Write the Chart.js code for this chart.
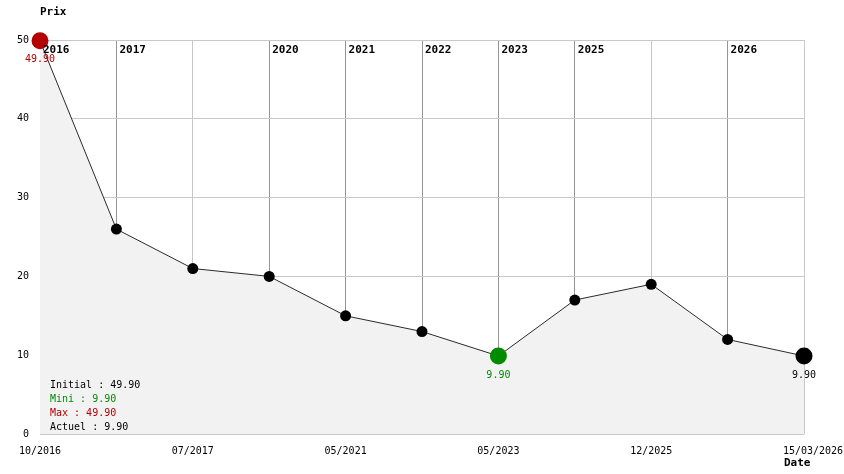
<!DOCTYPE html>
<html>
<head>
<meta charset="utf-8">
<script src="https://cdn.jsdelivr.net/npm/chart.js@4"></script>
<style>
    html, body { margin: 0; padding: 0; background: #fff; }
    #wrap { width: 844px; height: 474px; }
</style>
</head>
<body>
<div id="wrap"><canvas id="prixChart" width="844" height="474"></canvas></div>
<script>
// ------------------------------------------------------------------
// DONNEES
// ------------------------------------------------------------------
const DATES = ["10/2016", "", "07/2017", "", "05/2021", "", "05/2023", "", "12/2025", "", "15/03/2026"];
const PRIX = [49.90, 26.00, 21.00, 20.00, 15.00, 13.00, 9.90, 17.00, 19.00, 12.00, 9.90];
const ANNEES = ["2016", "2017", "", "2020", "2021", "2022", "2023", "2025", "", "2026", ""];
const Y_TICKS = [0, 10, 20, 30, 40, 50];

const ROUGE = "#b40000";
const VERT = "#008c00";
const NOIR = "#000000";
const POLICE = "'DejaVu Sans Mono', 'Liberation Mono', monospace";

const iMax = PRIX.indexOf(Math.max(...PRIX));
const iMin = PRIX.indexOf(Math.min(...PRIX));
const iFin = PRIX.length - 1;

function couleurPoint(i) {
    if (i === iMax) return ROUGE;
    if (i === iMin) return VERT;
    return NOIR;
}

function rayonPoint(i) {
    return (i === iMax || i === iMin || i === iFin) ? 8.5 : 5.5;
}

// ------------------------------------------------------------------
// TEXTES SUR LE CANVAS
// ------------------------------------------------------------------
const textesPlugin = {
    id: "textes",
    afterDraw(chart) {
        const ctx = chart.ctx;
        const x = chart.scales.x;
        const area = chart.chartArea;
        const pts = chart.getDatasetMeta(0).data;

        ctx.save();

        // annees en haut des lignes
        ctx.font = "bold 11px " + POLICE;
        ctx.fillStyle = NOIR;
        ctx.textAlign = "left";
        ctx.textBaseline = "middle";
        ANNEES.forEach((a, i) => {
            if (a) ctx.fillText(a, x.getPixelForValue(i) + 3, area.top + 10);
        });

        // titres
        ctx.fillText("Prix", 40, 12);
        ctx.fillText("Date", 784, 463);

        // valeurs sous les points
        ctx.font = "10px " + POLICE;
        ctx.textAlign = "center";
        [iMax, iMin, iFin].forEach(i => {
            const p = pts[i];
            ctx.fillStyle = couleurPoint(i);
            ctx.fillText(PRIX[i].toFixed(2), p.x, p.y + 19);
        });

        // recap
        const lignes = [
            ["Initial : " + PRIX[0].toFixed(2), NOIR],
            ["Mini : " + PRIX[iMin].toFixed(2), VERT],
            ["Max : " + PRIX[iMax].toFixed(2), ROUGE],
            ["Actuel : " + PRIX[iFin].toFixed(2), NOIR]
        ];
        ctx.textAlign = "left";
        lignes.forEach((l, k) => {
            ctx.fillStyle = l[1];
            ctx.fillText(l[0], area.left + 10, area.bottom - 49 + k * 14);
        });

        ctx.restore();
    }
};

// ------------------------------------------------------------------
Chart.defaults.font.family = POLICE;
Chart.defaults.font.size = 10;
Chart.defaults.color = NOIR;

new Chart(document.getElementById("prixChart").getContext("2d"), {
    type: "line",
    data: {
        labels: DATES,
        datasets: [{
            data: PRIX,
            borderColor: "#2a2a2a",
            borderWidth: 1,
            backgroundColor: "#f2f2f2",
            fill: "origin",
            tension: 0,
            clip: false,
            pointRadius: c => rayonPoint(c.dataIndex),
            pointBackgroundColor: c => couleurPoint(c.dataIndex),
            pointBorderWidth: 0
        }]
    },
    options: {
        responsive: false,
        animation: false,
        layout: { padding: { top: 40, right: 40, left: 0, bottom: 0 } },
        plugins: {
            legend: { display: false },
            tooltip: { enabled: false }
        },
        scales: {
            x: {
                type: "category",
                offset: false,
                border: { display: false },
                grid: {
                    drawTicks: false,
                    color: c => (c.index > 0 && ANNEES[c.index]) ? "#959595" : "#c8c8c8",
                    lineWidth: c => c.index === 0 ? 0 : 1
                },
                ticks: {
                    autoSkip: false,
                    maxRotation: 0,
                    padding: 11,
                    callback: (v, i) => i === iFin ? "   " + DATES[i] : DATES[i]
                },
                afterFit: s => {
                    s.height = 40;
                    s.paddingLeft = 0;
                    s.paddingRight = 0;
                }
            },
            y: {
                min: Y_TICKS[0],
                max: Y_TICKS[Y_TICKS.length - 1],
                border: { display: false },
                afterBuildTicks: s => { s.ticks = Y_TICKS.map(v => ({ value: v })); },
                grid: { drawTicks: false, color: "#c8c8c8" },
                ticks: { padding: 11 },
                afterFit: s => {
                    s.width = 40;
                    s.paddingTop = 0;
                    s.paddingBottom = 0;
                }
            }
        }
    },
    plugins: [textesPlugin]
});
</script>
</body>
</html>
